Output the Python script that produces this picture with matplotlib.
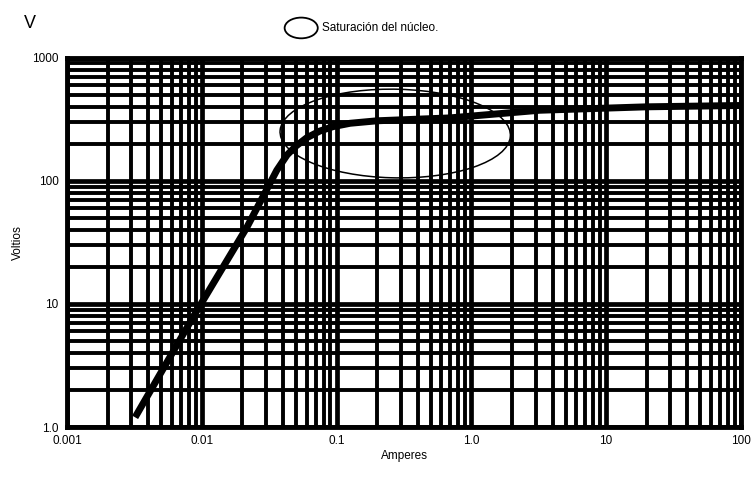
"""Curva de saturación V-I (log-log) con papel logarítmico de rejilla gruesa."""

import matplotlib
matplotlib.use("Agg")
import matplotlib.pyplot as plt
from matplotlib.patches import Ellipse
from matplotlib.ticker import LogLocator, NullFormatter

plt.rcParams["font.family"] = ["Liberation Sans Narrow", "Liberation Sans", "DejaVu Sans"]

# curva
amperes = [0.0032, 0.0086, 0.0216, 0.036, 0.043, 0.05, 0.06, 0.075, 0.094, 0.126, 0.2, 0.69, 3.2, 20, 100]
voltios = [1.2, 7.8, 42, 122, 163, 192, 224, 254, 276, 294, 308, 325, 375, 400, 410]

x_ticks = [0.001, 0.01, 0.1, 1.0, 10, 100]
x_labels = ["0.001", "0.01", "0.1", "1.0", "10", "100"]
y_ticks = [1, 10, 100, 1000]
y_labels = ["1.0", "10", "100", "1000"]

fig = plt.figure(figsize=(7.53, 4.82), dpi=100)
ax = fig.add_axes([0.089, 0.114, 0.895, 0.766])
ax.set_xscale("log")
ax.set_yscale("log")
ax.set_xlim(0.001, 100)
ax.set_ylim(1, 1000)

# rejilla gruesa: décadas y subdivisiones
ax.xaxis.set_minor_locator(LogLocator(base=10, subs=range(2, 10)))
ax.yaxis.set_minor_locator(LogLocator(base=10, subs=range(2, 10)))
ax.xaxis.set_minor_formatter(NullFormatter())
ax.yaxis.set_minor_formatter(NullFormatter())
ax.grid(which="major", color="black", linewidth=3.4)
ax.grid(which="minor", color="black", linewidth=2.8)
ax.set_axisbelow(True)
for s in ax.spines.values():
    s.set_linewidth(3.5)

ax.set_xticks(x_ticks)
ax.set_xticklabels(x_labels)
ax.set_yticks(y_ticks)
ax.set_yticklabels(y_labels)
ax.tick_params(which="both", length=0, labelsize=8.5, pad=6)

ax.plot(amperes, voltios, color="black", linewidth=5, solid_capstyle="butt",
        solid_joinstyle="round")

# zona de saturación (en coordenadas de ejes, el eje es log)
ax.add_patch(Ellipse((0.487, 0.795), 0.342, 0.24, angle=-3, transform=ax.transAxes,
                     fill=False, edgecolor="black", linewidth=1.1))

ax.set_xlabel("Amperes", fontsize=8.5, labelpad=2)
ax.set_ylabel("Voltios", fontsize=8.5, labelpad=6)

fig.text(0.04, 0.952, "V", fontsize=13, ha="center", va="center")
fig.add_artist(Ellipse((0.400, 0.942), 0.044, 0.043, transform=fig.transFigure,
                       fill=False, edgecolor="black", linewidth=1.3))
fig.text(0.428, 0.942, "Saturación del núcleo.", fontsize=8.5, ha="left", va="center")

fig.savefig("out.png", dpi=100)
